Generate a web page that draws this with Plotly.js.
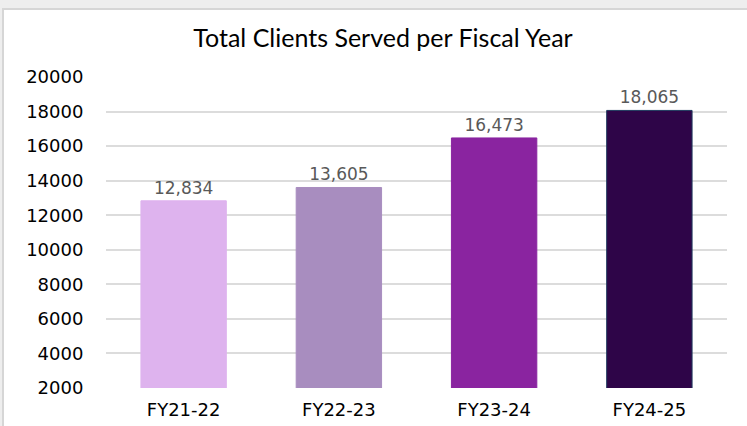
<!DOCTYPE html>
<html>
<head>
<meta charset="utf-8">
<script src="https://cdn.plot.ly/plotly-3.0.1.min.js"></script>
<style>html,body{margin:0;padding:0;background:#EEEEEE;}#chart{width:747px;height:426px;}</style>
</head>
<body>
<div id="chart"></div>
<script>
const categories = ["FY21-22", "FY22-23", "FY23-24", "FY24-25"];
const clients = [12834, 13605, 16473, 18065];
const labels = ["12,834", "13,605", "16,473", "18,065"];
const barColors = ["#DEB3EE", "#A88DBF", "#8A24A0", "#2E0548"];
const lineColors = ["#DEB3EE", "#A88DBF", "#8A24A0", "#1F3A5F"];
const yTicks = [2000, 4000, 6000, 8000, 10000, 12000, 14000, 16000, 18000, 20000];

const L = 106, R = 20, T = 77, B = 38, W = 747, H = 426;
const pw = W - L - R, ph = H - T - B;

const trace = {
  type: "bar",
  x: categories,
  y: clients,
  text: labels,
  textposition: "outside",
  cliponaxis: false,
  textfont: {family: "DejaVu Sans", size: 17, color: "#595959"},
  marker: {color: barColors, line: {color: lineColors, width: 1}},
  width: 0.55,
  hoverinfo: "none"
};

const layout = {
  width: W, height: H,
  margin: {l: L, r: R, t: T, b: B, pad: 0},
  paper_bgcolor: "#EEEEEE",
  plot_bgcolor: "rgba(0,0,0,0)",
  showlegend: false,
  title: {
    text: "Total Clients Served per Fiscal Year",
    font: {family: "Lato", size: 25, color: "#000000"},
    x: 383 / W, xref: "container", xanchor: "center",
    y: 1 - 38 / H, yref: "container", yanchor: "middle"
  },
  xaxis: {
    type: "category",
    showgrid: false, zeroline: false, showline: false,
    tickfont: {family: "DejaVu Sans", size: 18, color: "#000000"},
    ticks: "outside", ticklen: 5, tickcolor: "rgba(0,0,0,0)"
  },
  yaxis: {
    range: [2000, 20000],
    tickvals: yTicks,
    ticktext: yTicks.map(String),
    showgrid: true, gridcolor: "#DCDCDC", gridwidth: 2,
    zeroline: false, showline: false,
    tickfont: {family: "DejaVu Sans", size: 18, color: "#000000"},
    ticks: "outside", ticklen: 18, tickcolor: "rgba(0,0,0,0)"
  },
  shapes: [{
    type: "rect", xref: "paper", yref: "paper", layer: "below",
    x0: (3 - L) / pw, x1: (W + 5 - L) / pw,
    y0: -(B + 5) / ph, y1: (H - B - 9) / ph,
    fillcolor: "#FFFFFF", line: {color: "#D6D6D6", width: 2}
  }]
};

Plotly.newPlot("chart", [trace], layout, {staticPlot: true, displayModeBar: false});
</script>
</body>
</html>
